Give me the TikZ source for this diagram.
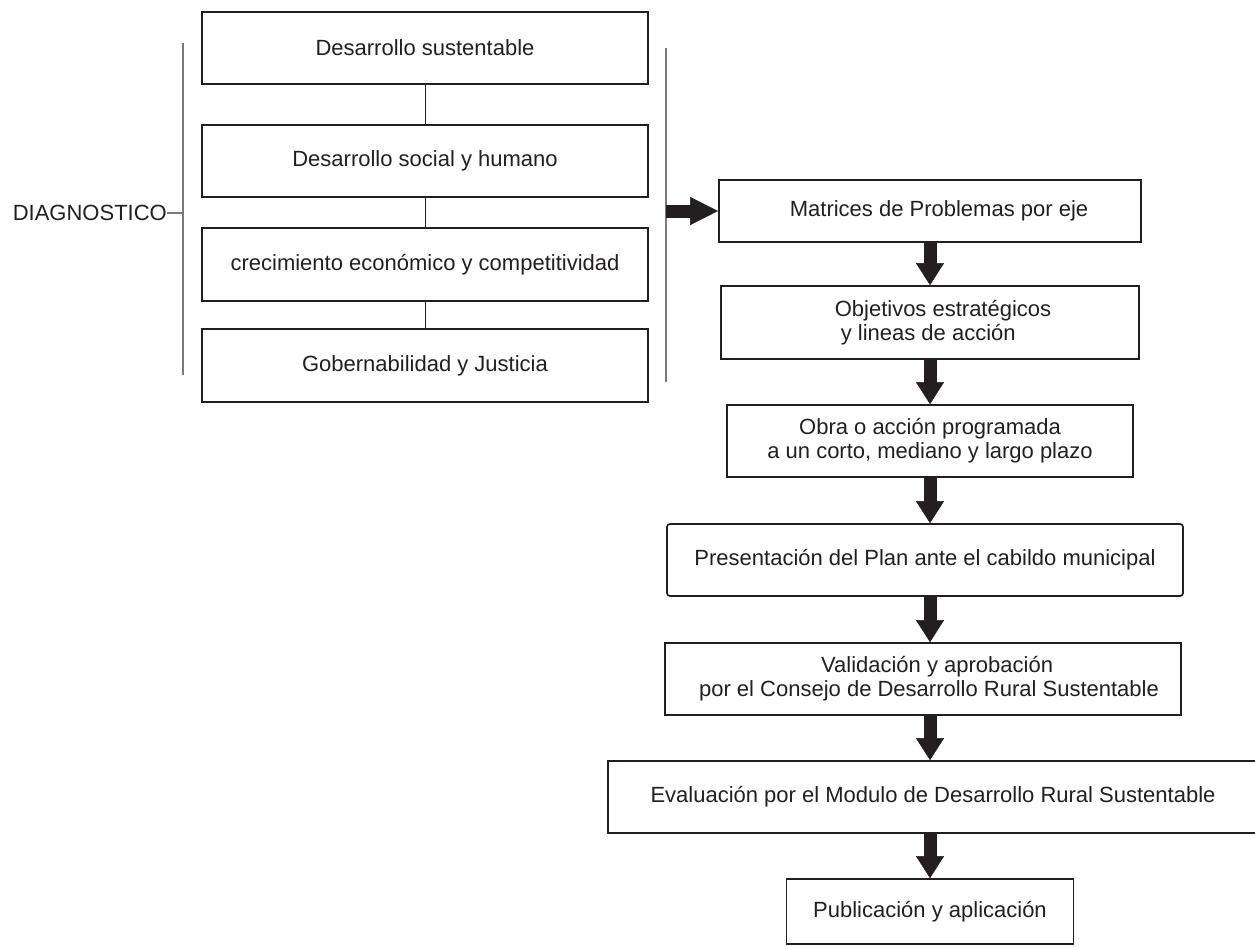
\documentclass[tikz,border=0pt]{standalone}
\usepackage{fontspec}
\setmainfont{Liberation Sans}
\usetikzlibrary{arrows.meta}
\definecolor{ink}{HTML}{231F20}
\definecolor{brk}{HTML}{7A7A7A}
\newcommand{\fsz}{\fontsize{22}{24}\selectfont}
\begin{document}
\begin{tikzpicture}[x=1pt,y=-1pt,
  box/.style={draw=ink,line width=1.7pt,inner sep=0pt,align=center,font=\fsz,text=ink},
  plainlbl/.style={inner sep=0pt,font=\fsz,text=ink},
  link/.style={draw=ink,line width=1pt},
  bracketline/.style={draw=brk,line width=1.4pt},
  shaft/.style={draw=ink,line width=13pt,shorten >=20pt},
  tiphead/.style={draw=ink,line width=0.4pt,-{Triangle[width=28pt,length=22pt]}},
  hshaft/.style={draw=ink,line width=13pt,shorten >=26pt},
  htiphead/.style={draw=ink,line width=0.4pt,-{Triangle[width=28pt,length=28pt]}}]
\useasboundingbox (0,0) rectangle (1255,946);
\fill[white] (0,0) rectangle (1255,946);

% left stack
\node[box,minimum width=446pt,minimum height=72pt] (b1) at (425,48) {Desarrollo sustentable};
\node[box,minimum width=446pt,minimum height=72pt] (b2) at (425,161) {Desarrollo social y humano};
\node[box,minimum width=446pt,minimum height=73pt] (b3) at (425,264.5) {crecimiento económico y competitividad};
\node[box,minimum width=446pt,minimum height=73pt] (b4) at (425,365.5) {Gobernabilidad y Justicia};
\draw[link] (b1.south) -- (b2.north);
\draw[link] (b2.south) -- (b3.north);
\draw[link] (b3.south) -- (b4.north);

% brackets
\coordinate (lbt) at (183,43);
\coordinate (lbb) at (183,375);
\coordinate (rbt) at (666,48);
\coordinate (rbb) at (666,382);
\draw[bracketline] (lbt) -- (lbb);
\draw[bracketline] (rbt) -- (rbb);
\node[plainlbl,anchor=east] (diag) at (167,213) {DIAGNOSTICO};
\draw[bracketline] (diag.east) -- (diag.east -| lbt);

% right column
\coordinate (col) at (930,0);
\node[box,minimum width=422pt,minimum height=62pt] (matrices) at (930,211) {\hspace*{18pt}Matrices de Problemas por eje};
\node[box,minimum width=418pt,minimum height=73pt,align=left] (objetivos) at (930,322.5) {\hspace*{26pt}Objetivos estratégicos\\\hspace*{32pt}y lineas de acción};
\node[box,minimum width=406pt,minimum height=72pt] (obra) at (930,441) {Obra o acción programada\\a un corto, mediano y largo plazo};
\node[box,minimum width=516pt,minimum height=72pt,rounded corners=3pt] (pres) at (925,560) {Presentación del Plan ante el cabildo municipal};
\node[box,minimum width=516pt,minimum height=72pt,align=left] (val) at (923,679) {\hspace*{134pt}Validación y aprobación\\\hspace*{12pt}por el Consejo de Desarrollo Rural Sustentable};
\node[box,minimum width=650pt,minimum height=72pt] (eval) at (933,797) {Evaluación por el Modulo de Desarrollo Rural Sustentable};
\node[box,minimum width=287pt,minimum height=65pt] (pub) at (930,911.5) {Publicación y aplicación};

% arrows
\draw[hshaft] (rbt |- matrices.west) -- (matrices.west);
\draw[htiphead] (rbt |- matrices.west) -- (matrices.west);
\foreach \a/\b in {matrices/objetivos,objetivos/obra,obra/pres,pres/val,val/eval,eval/pub}{
  \draw[shaft] (\a.south -| col) -- (\b.north -| col);
  \draw[tiphead] (\a.south -| col) -- (\b.north -| col);
}
\end{tikzpicture}
\end{document}
